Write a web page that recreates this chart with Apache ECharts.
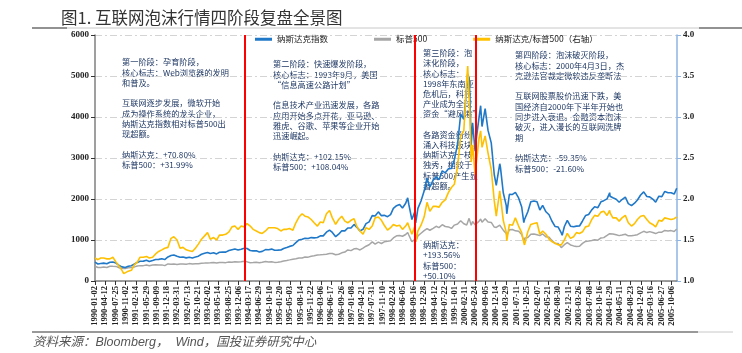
<!DOCTYPE html>
<html>
<head>
<meta charset="utf-8">
<script src="https://cdn.jsdelivr.net/npm/echarts@6/dist/echarts.min.js"></script>
<style>
  html, body { margin: 0; padding: 0; background: #fff; }
  #chart { width: 742px; height: 353px; }
</style>
</head>
<body>
<div id="chart"></div>
<script>
// 日期（月末 + 若干关键高低点）
const dates = [
  '1990-01-02','1990-01-31','1990-02-28','1990-03-30','1990-04-30','1990-05-31','1990-06-29','1990-07-16','1990-07-31','1990-08-31','1990-09-28','1990-10-16','1990-10-31','1990-11-30','1990-12-31',
  '1991-01-31','1991-02-28','1991-03-28','1991-04-30','1991-05-31','1991-06-28','1991-07-31','1991-08-30','1991-09-30','1991-10-31','1991-11-29','1991-12-31',
  '1992-01-31','1992-02-28','1992-03-31','1992-04-30','1992-05-29','1992-06-30','1992-07-31','1992-08-31','1992-09-30','1992-10-30','1992-11-30','1992-12-31',
  '1993-01-29','1993-02-26','1993-03-31','1993-04-30','1993-05-28','1993-06-30','1993-07-30','1993-08-31','1993-09-30','1993-10-29','1993-11-30','1993-12-31',
  '1994-01-31','1994-02-28','1994-03-31','1994-04-29','1994-05-31','1994-06-30','1994-07-29','1994-08-31','1994-09-30','1994-10-31','1994-11-30','1994-12-30',
  '1995-01-31','1995-02-28','1995-03-31','1995-04-28','1995-05-31','1995-06-30','1995-07-31','1995-08-31','1995-09-29','1995-10-31','1995-11-30','1995-12-29',
  '1996-01-31','1996-02-29','1996-03-29','1996-04-30','1996-05-31','1996-06-28','1996-07-31','1996-08-30','1996-09-30','1996-10-31','1996-11-29','1996-12-31',
  '1997-01-31','1997-02-28','1997-03-31','1997-04-30','1997-05-30','1997-06-30','1997-07-31','1997-08-29','1997-09-30','1997-10-31','1997-11-28','1997-12-31',
  '1998-01-30','1998-02-27','1998-03-31','1998-04-30','1998-05-29','1998-06-30','1998-07-20','1998-07-31','1998-08-31','1998-09-30','1998-10-08','1998-10-30','1998-11-30','1998-12-31',
  '1999-01-29','1999-02-26','1999-03-31','1999-04-30','1999-05-28','1999-06-30','1999-07-30','1999-08-31','1999-09-30','1999-10-29','1999-11-30','1999-12-31',
  '2000-01-31','2000-02-29','2000-03-10','2000-03-24','2000-03-31','2000-04-14','2000-04-28','2000-05-23','2000-05-31','2000-06-30','2000-07-17','2000-07-31','2000-08-31','2000-09-01','2000-09-29','2000-10-31','2000-11-30','2000-12-20','2000-12-29',
  '2001-01-24','2001-01-31','2001-02-28','2001-03-30','2001-04-04','2001-04-30','2001-05-31','2001-06-29','2001-07-31','2001-08-31','2001-09-21','2001-09-28','2001-10-31','2001-11-30','2001-12-31',
  '2002-01-31','2002-02-28','2002-03-28','2002-04-30','2002-05-31','2002-06-28','2002-07-31','2002-08-30','2002-09-30','2002-10-09','2002-10-31','2002-11-29','2002-12-31',
  '2003-01-31','2003-02-28','2003-03-31','2003-04-30','2003-05-30','2003-06-30','2003-07-31','2003-08-29','2003-09-30','2003-10-31','2003-11-28','2003-12-31',
  '2004-01-26','2004-01-30','2004-02-27','2004-03-31','2004-04-30','2004-05-28','2004-06-30','2004-07-30','2004-08-31','2004-09-30','2004-10-29','2004-11-30','2004-12-31',
  '2005-01-31','2005-02-28','2005-03-31','2005-04-29','2005-05-31','2005-06-30','2005-07-29','2005-08-31','2005-09-30','2005-10-31','2005-11-25'
]

// 纳斯达克指数
const nasdaq = [
  459, 416, 426, 436, 420, 459, 462, 470, 438, 381, 345, 325, 330, 359, 374,
  414, 453, 482, 485, 506, 476, 502, 526, 527, 543, 524, 586,
  620, 634, 604, 579, 585, 564, 581, 563, 583, 605, 653, 677,
  696, 671, 690, 661, 701, 704, 705, 743, 763, 779, 754, 777,
  801, 793, 744, 734, 735, 706, 722, 766, 764, 778, 750, 752,
  755, 794, 817, 844, 865, 934, 1001, 1020, 1044, 1036, 1059, 1052,
  1060, 1100, 1101, 1191, 1243, 1185, 1081, 1142, 1227, 1222, 1293, 1291,
  1380, 1309, 1222, 1261, 1400, 1442, 1594, 1587, 1686, 1594, 1601, 1570,
  1619, 1771, 1836, 1868, 1779, 1895, 2028, 1872, 1499, 1694, 1419, 1771, 1950, 2193,
  2506, 2288, 2461, 2543, 2471, 2686, 2639, 2739, 2746, 2966, 3336, 4069,
  3940, 4697, 5049, 4963, 4573, 3321, 3861, 3165, 3401, 3966, 4275, 3767, 4206, 4234, 3673, 3370, 2598, 2333, 2471,
  2859, 2773, 2152, 1840, 1639, 2116, 2111, 2161, 2027, 1805, 1423, 1499, 1690, 1931, 1950,
  1934, 1732, 1845, 1688, 1616, 1463, 1328, 1315, 1172, 1114, 1330, 1479, 1336,
  1321, 1338, 1341, 1464, 1596, 1623, 1735, 1811, 1787, 1932, 1960, 2003,
  2154, 2066, 2030, 1994, 1920, 1987, 2048, 1887, 1838, 1897, 1975, 2097, 2175,
  2062, 2052, 1999, 1922, 2068, 2057, 2185, 2152, 2152, 2120, 2263
]

// 标普500
const sp500 = [
  360, 329, 332, 340, 331, 361, 358, 369, 356, 323, 306, 299, 304, 322, 330,
  344, 367, 375, 375, 390, 371, 388, 395, 388, 393, 375, 417,
  409, 413, 404, 415, 415, 408, 424, 414, 418, 419, 431, 436,
  439, 443, 452, 440, 450, 451, 448, 464, 459, 468, 462, 467,
  482, 467, 446, 451, 457, 444, 458, 476, 463, 472, 454, 459,
  470, 487, 501, 515, 533, 545, 562, 562, 584, 582, 605, 616,
  636, 640, 646, 654, 669, 671, 640, 652, 687, 705, 757, 741,
  786, 791, 757, 801, 848, 885, 954, 900, 947, 915, 955, 970,
  980, 1049, 1102, 1112, 1091, 1134, 1184, 1121, 957, 1017, 959, 1099, 1164, 1229,
  1280, 1238, 1286, 1335, 1302, 1373, 1329, 1320, 1283, 1363, 1389, 1469,
  1395, 1366, 1395, 1528, 1499, 1357, 1452, 1374, 1421, 1455, 1511, 1431, 1518, 1521, 1437, 1429, 1315, 1306, 1320,
  1360, 1366, 1240, 1160, 1103, 1250, 1256, 1224, 1211, 1134, 966, 1041, 1060, 1140, 1148,
  1130, 1107, 1147, 1077, 1067, 990, 912, 916, 815, 777, 886, 936, 880,
  856, 841, 848, 917, 964, 975, 990, 1008, 996, 1051, 1058, 1112,
  1155, 1131, 1145, 1126, 1107, 1121, 1141, 1102, 1104, 1115, 1130, 1174, 1212,
  1181, 1204, 1181, 1157, 1192, 1191, 1234, 1220, 1229, 1207, 1268
]

// 纳斯达克/标普500（右轴）
const ratio = [
  1.28, 1.26, 1.28, 1.28, 1.27, 1.27, 1.29, 1.27, 1.23, 1.18, 1.13, 1.09, 1.09, 1.12, 1.13,
  1.20, 1.23, 1.29, 1.29, 1.30, 1.28, 1.29, 1.33, 1.36, 1.38, 1.40, 1.41,
  1.52, 1.54, 1.50, 1.40, 1.41, 1.38, 1.37, 1.36, 1.40, 1.45, 1.51, 1.55,
  1.59, 1.51, 1.53, 1.50, 1.56, 1.56, 1.57, 1.60, 1.66, 1.67, 1.63, 1.67,
  1.66, 1.70, 1.67, 1.63, 1.61, 1.59, 1.58, 1.61, 1.65, 1.65, 1.65, 1.64,
  1.61, 1.63, 1.63, 1.64, 1.62, 1.71, 1.78, 1.82, 1.79, 1.78, 1.75, 1.71,
  1.67, 1.72, 1.71, 1.82, 1.86, 1.77, 1.69, 1.75, 1.79, 1.73, 1.71, 1.74,
  1.76, 1.66, 1.61, 1.57, 1.65, 1.63, 1.67, 1.77, 1.78, 1.74, 1.68, 1.62,
  1.65, 1.69, 1.67, 1.68, 1.63, 1.67, 1.71, 1.67, 1.57, 1.67, 1.48, 1.61, 1.68, 1.78,
  1.96, 1.85, 1.91, 1.91, 1.90, 1.96, 1.99, 2.08, 2.14, 2.18, 2.40, 2.77,
  2.83, 3.44, 3.62, 3.25, 3.05, 2.45, 2.66, 2.30, 2.39, 2.73, 2.83, 2.63, 2.77, 2.78, 2.56, 2.36, 1.98, 1.79, 1.87,
  2.10, 2.03, 1.74, 1.59, 1.49, 1.69, 1.68, 1.77, 1.67, 1.59, 1.47, 1.44, 1.60, 1.69, 1.70,
  1.71, 1.57, 1.61, 1.57, 1.51, 1.48, 1.46, 1.44, 1.44, 1.43, 1.50, 1.58, 1.52,
  1.54, 1.59, 1.58, 1.60, 1.66, 1.67, 1.75, 1.80, 1.79, 1.84, 1.85, 1.80,
  1.86, 1.83, 1.77, 1.77, 1.73, 1.77, 1.80, 1.71, 1.67, 1.70, 1.75, 1.79, 1.80,
  1.75, 1.71, 1.69, 1.66, 1.74, 1.73, 1.77, 1.76, 1.75, 1.76, 1.78
]

// 横轴刻度标签
const tickDates = [
  '1990-01-02','1990-04-12','1990-07-25','1990-11-02','1991-02-14','1991-05-29','1991-09-09','1991-12-18',
  '1992-03-31','1992-07-13','1992-10-21','1993-02-02','1993-05-14','1993-08-25','1993-12-06','1994-03-17',
  '1994-06-29','1994-10-10','1995-01-20','1995-05-03','1995-08-14','1995-11-22','1996-03-06','1996-06-17',
  '1996-09-26','1997-01-08','1997-04-21','1997-07-31','1997-11-10','1998-02-24','1998-06-05','1998-09-16',
  '1998-12-28','1999-04-12','1999-07-22','1999-11-01','2000-02-11','2000-05-24','2000-09-05','2000-12-14',
  '2001-03-29','2001-07-11','2001-10-25','2002-02-07','2002-05-21','2002-08-30','2002-12-11','2003-03-26',
  '2003-07-08','2003-10-16','2004-01-29','2004-05-11','2004-08-23','2004-12-02','2005-03-16','2005-06-27',
  '2005-10-06'
]

// 四个阶段的分界
const phaseLines = ['1994-02-03', '1998-09-25', '2000-06-03']

function ts(s) {
  const p = s.split('-')
  return new Date(+p[0], +p[1] - 1, +p[2]).getTime()
}
function pad(n) { return n < 10 ? '0' + n : '' + n }
function fmtDate(v) {
  const d = new Date(v)
  return d.getFullYear() + '-' + pad(d.getMonth() + 1) + '-' + pad(d.getDate())
}

const noteColor = '#1F3864'
const noteFont = '"Noto Sans CJK SC"'
function note(x, y, lines, lh) {
  return {
    type: 'text',
    x: x,
    y: y,
    silent: true,
    style: {
      text: lines.join('\n'),
      fill: noteColor,
      fontSize: 8.2,
      fontFamily: noteFont,
      lineHeight: lh || 10.3,
      verticalAlign: 'top'
    }
  }
}

const chart = echarts.init(document.getElementById('chart'))

chart.setOption({
  animation: false,
  backgroundColor: '#fff',
  title: {
    text: '图1. 互联网泡沫行情四阶段复盘全景图',
    left: 56,
    top: 4,
    textStyle: {
      fontSize: 16.5,
      fontWeight: 'normal',
      color: '#333',
      fontFamily: '"Noto Sans CJK SC"'
    }
  },
  legend: {
    left: 255,
    top: 35,
    padding: 0,
    itemWidth: 17,
    itemHeight: 3,
    itemGap: 46,
    icon: 'rect',
    textStyle: { fontSize: 8.5, color: '#222', fontFamily: '"Noto Sans CJK SC"' },
    data: ['纳斯达克指数', '标普500', '纳斯达克/标普500（右轴）']
  },
  grid: { left: 95, right: 65, top: 35, bottom: 72 },
  xAxis: {
    type: 'value',
    min: ts('1990-01-02'),
    max: ts('2005-11-28'),
    axisLine: { lineStyle: { color: '#7f7f7f', width: 1.5 } },
    axisTick: {
      show: true,
      length: 4,
      customValues: tickDates.map(ts),
      lineStyle: { color: '#333' }
    },
    axisLabel: {
      customValues: tickDates.map(ts),
      rotate: 90,
      margin: 5,
      fontSize: 8.5,
      fontFamily: '"Liberation Serif"',
      fontWeight: 'bold',
      color: '#222',
      formatter: fmtDate
    },
    splitLine: { show: false }
  },
  yAxis: [
    {
      type: 'value',
      min: 0,
      max: 6000,
      interval: 1000,
      position: 'left',
      axisLine: { show: true, lineStyle: { color: '#7f7f7f', width: 1.5 } },
      axisTick: { show: true, length: 4, lineStyle: { color: '#333' } },
      axisLabel: {
        margin: 6,
        fontSize: 9,
        fontFamily: '"Liberation Serif"',
        fontWeight: 'bold',
        color: '#222',
        formatter: v => String(v)
      },
      splitLine: { show: true, lineStyle: { color: '#d4d4d4', type: [7, 3, 2, 3] } }
    },
    {
      type: 'value',
      min: 1,
      max: 4,
      interval: 0.5,
      position: 'right',
      axisLine: { show: true, lineStyle: { color: '#8EB4E3', width: 1.5 } },
      axisTick: { show: true, length: 4, lineStyle: { color: '#8EB4E3' } },
      axisLabel: {
        margin: 6,
        fontSize: 9,
        fontFamily: '"Liberation Serif"',
        fontWeight: 'bold',
        color: '#222',
        formatter: v => v.toFixed(1)
      },
      splitLine: { show: false }
    }
  ],
  series: [
    {
      name: '纳斯达克指数',
      type: 'line',
      yAxisIndex: 0,
      symbol: 'none',
      color: '#1F78C8',
      lineStyle: { width: 1.6, color: '#1F78C8' },
      data: dates.map((d, i) => [ts(d), nasdaq[i]]),
      markLine: {
        silent: true,
        symbol: ['none', 'none'],
        label: { show: false },
        lineStyle: { color: '#FF0000', width: 2, type: 'solid' },
        data: phaseLines.map(d => ({ xAxis: ts(d) }))
      },
      z: 3
    },
    {
      name: '标普500',
      type: 'line',
      yAxisIndex: 0,
      symbol: 'none',
      color: '#A6A6A6',
      lineStyle: { width: 1.5, color: '#A6A6A6' },
      data: dates.map((d, i) => [ts(d), sp500[i]]),
      z: 2
    },
    {
      name: '纳斯达克/标普500（右轴）',
      type: 'line',
      yAxisIndex: 1,
      symbol: 'none',
      color: '#FFC000',
      lineStyle: { width: 1.6, color: '#FFC000' },
      data: dates.map((d, i) => [ts(d), ratio[i]]),
      z: 4
    }
  ],
  graphic: [
    // 标题下方横线
    { type: 'line', silent: true, shape: { x1: 32, y1: 28, x2: 742, y2: 28 }, style: { stroke: '#c8c8c8', lineWidth: 1 } },
    { type: 'line', silent: true, shape: { x1: 32, y1: 28, x2: 67, y2: 28 }, style: { stroke: '#777', lineWidth: 1.5 } },
    { type: 'line', silent: true, shape: { x1: 699, y1: 28, x2: 742, y2: 28 }, style: { stroke: '#777', lineWidth: 1.5 } },
    // 底部横线
    { type: 'line', silent: true, shape: { x1: 32, y1: 332, x2: 698, y2: 332 }, style: { stroke: '#777', lineWidth: 1.5 } },
    { type: 'line', silent: true, shape: { x1: 698, y1: 332, x2: 733, y2: 332 }, style: { stroke: '#c8c8c8', lineWidth: 1 } },
    {
      type: 'text',
      x: 33,
      y: 343,
      silent: true,
      style: {
        text: '资料来源：Bloomberg，  Wind，国投证券研究中心',
        fill: '#555',
        fontSize: 12.5,
        fontStyle: 'italic',
        fontFamily: '"Liberation Sans", "Noto Sans CJK SC"',
        verticalAlign: 'middle'
      }
    },
    note(122, 57, [
      '第一阶段：孕育阶段，',
      '核心标志：Web浏览器的发明',
      '和普及。',
      '',
      '互联网逐步发展，微软开始',
      '成为操作系统的龙头企业，',
      '纳斯达克指数相对标普500出',
      '现超额。',
      '',
      '纳斯达克：+70.80%',
      '标普500：+31.99%'
    ]),
    note(273, 59, [
      '第二阶段：快速爆发阶段，',
      '核心标志：1993年9月，美国',
      '“信息高速公路计划”',
      '',
      '信息技术产业迅速发展，各路',
      '应用开始多点开花，亚马逊、',
      '雅虎、谷歌、苹果等企业开始',
      '迅速崛起。',
      '',
      '纳斯达克：+102.15%',
      '标普500：+108.04%'
    ]),
    note(423, 48, [
      '第三阶段：泡',
      '沫化阶段，',
      '核心标志：',
      '1998年东南亚',
      '危机后，科技',
      '产业成为全球',
      '资金“避风港”',
      '',
      '各路资金纷纷',
      '涌入科技板块，',
      '纳斯达克一枝',
      '独秀，相较于',
      '标普500产生显',
      '著超额。'
    ], 10.2),
    note(423, 240, [
      '纳斯达克：',
      '+193.56%',
      '标普500：',
      '+50.10%'
    ], 10.2),
    note(515, 50, [
      '第四阶段：泡沫破灭阶段，',
      '核心标志：2000年4月3日，杰',
      '克逊法官裁定微软违反垄断法',
      '',
      '互联网股票股价迅速下跌，美',
      '国经济自2000年下半年开始也',
      '同步进入衰退。金融资本泡沫',
      '破灭，进入漫长的互联网洗牌',
      '期',
      '',
      '纳斯达克：-59.35%',
      '标普500：-21.60%'
    ])
  ]
})
</script>
</body>
</html>
